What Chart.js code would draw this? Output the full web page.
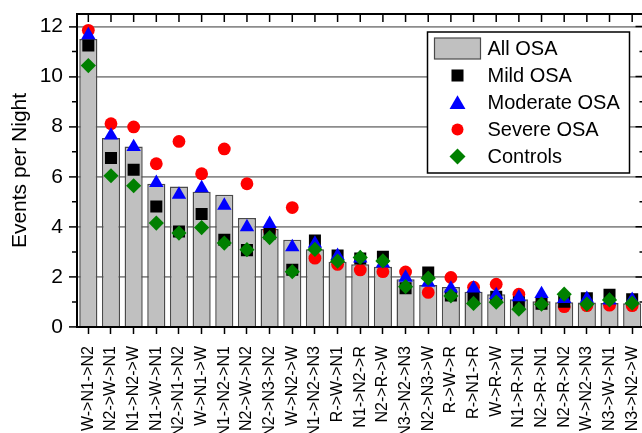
<!DOCTYPE html>
<html>
<head>
<meta charset="utf-8">
<script src="https://cdn.jsdelivr.net/npm/chart.js@4.4.1/dist/chart.umd.min.js"></script>
<style>
  html, body { margin: 0; padding: 0; background: #fff; overflow: hidden; }
  #wrap { width: 652px; height: 460px; position: relative; }
</style>
</head>
<body>
<div id="wrap"><canvas id="c"></canvas></div>
<script>
// Sleep-stage transition triplets, sorted by the All OSA rate
const categories = [
  'W->N1->N2', 'N2->W->N1', 'N1->N2->W', 'N1->W->N1', 'N2->N1->N2',
  'W->N1->W', 'N1->N2->N1', 'N2->W->N2', 'N2->N3->N2', 'W->N2->W',
  'N1->N2->N3', 'R->W->N1', 'N1->N2->R', 'N2->R->W', 'N3->N2->N3',
  'N2->N3->W', 'R->W->R', 'R->N1->R', 'W->R->W', 'N1->R->N1',
  'N2->R->N1', 'N2->R->N2', 'W->N2->N3', 'N3->W->N1', 'N3->N2->W'
];

// Events per night for each group
const allOSA      = [11.50, 7.55, 7.21, 5.72, 5.61, 5.40, 5.28, 4.35, 3.91, 3.48, 3.11, 2.61, 2.51, 2.41, 1.91, 1.68, 1.60, 1.41, 1.31, 1.11, 1.03, 0.99, 0.98, 0.96, 0.95];
const mildOSA     = [11.24, 6.75, 6.28, 4.81, 3.81, 4.51, 3.48, 3.07, 3.72, 2.29, 3.45, 2.86, 2.74, 2.81, 1.55, 2.18, 1.26, 1.17, 1.21, 0.98, 0.93, 1.01, 1.15, 1.29, 1.11];
const moderateOSA = [11.66, 7.65, 7.19, 5.76, 5.29, 5.55, 4.85, 3.99, 4.12, 3.19, 3.33, 2.84, 2.74, 2.54, 1.97, 1.77, 1.54, 1.54, 1.28, 1.19, 1.32, 1.12, 1.13, 1.06, 1.09];
const severeOSA   = [11.85, 8.12, 7.99, 6.52, 7.41, 6.12, 7.11, 5.72, 3.84, 4.77, 2.75, 2.50, 2.28, 2.21, 2.20, 1.38, 1.98, 1.59, 1.71, 1.31, 0.93, 0.81, 0.85, 0.87, 0.85];
const controls    = [10.44, 6.04, 5.64, 4.15, 3.75, 3.97, 3.35, 3.09, 3.57, 2.21, 3.10, 2.63, 2.78, 2.64, 1.61, 1.95, 1.24, 0.94, 0.99, 0.71, 0.91, 1.31, 0.91, 1.08, 0.95];

// Y axis: ticks every unit, labels on even values only
const yMin = 0, yMax = 12.5;
const yTickValues = [0, 1, 2, 3, 4, 5, 6, 7, 8, 9, 10, 11, 12];

Chart.defaults.font.family = '"Liberation Sans", Arial, Helvetica, sans-serif';
Chart.defaults.color = '#000';

// Marker shapes matching Chart.js point styles, used by the inset legend
function drawMarker(ctx, style, x, y, r, color) {
  ctx.fillStyle = color;
  ctx.beginPath();
  if (style === 'rect') {
    const s = Math.SQRT1_2 * r;
    ctx.rect(x - s, y - s, 2 * s, 2 * s);
  } else if (style === 'triangle') {
    ctx.moveTo(x, y - r);
    ctx.lineTo(x + 0.866 * r, y + 0.5 * r);
    ctx.lineTo(x - 0.866 * r, y + 0.5 * r);
    ctx.closePath();
  } else if (style === 'circle') {
    ctx.arc(x, y, r, 0, Math.PI * 2);
  } else if (style === 'rectRot') {
    ctx.moveTo(x - r, y);
    ctx.lineTo(x, y - r);
    ctx.lineTo(x + r, y);
    ctx.lineTo(x, y + r);
    ctx.closePath();
  }
  ctx.fill();
}

// Top and right frame with inward ticks, plus short minor ticks on the left
const framePlugin = {
  id: 'frame',
  afterDatasetsDraw(chart) {
    const { ctx, chartArea: a, scales } = chart;
    const xs = scales.x, ys = scales.y;
    ctx.save();
    ctx.strokeStyle = '#000';
    ctx.lineWidth = 2;
    ctx.beginPath();
    ctx.moveTo(a.left - 1, a.top);
    ctx.lineTo(a.right + 1, a.top);
    ctx.moveTo(a.right, a.top);
    ctx.lineTo(a.right, a.bottom);
    ctx.stroke();
    ctx.lineWidth = 1.5;
    ctx.beginPath();
    for (let i = 0; i < categories.length; i++) {
      const px = xs.getPixelForValue(i);
      ctx.moveTo(px, a.top);
      ctx.lineTo(px, a.top + 8);
    }
    yTickValues.forEach(v => {
      if (v === 0) return;
      const py = ys.getPixelForValue(v);
      const len = v % 2 === 0 ? 8 : 4;
      ctx.moveTo(a.right, py);
      ctx.lineTo(a.right - len, py);
      if (v % 2 === 1) {
        ctx.moveTo(a.left, py);
        ctx.lineTo(a.left - 5, py);
      }
    });
    ctx.stroke();
    ctx.restore();
  }
};

const legendPlugin = {
  id: 'insetLegend',
  afterDraw(chart) {
    const { ctx, chartArea: a } = chart;
    const w = 202, h = 141;
    const x0 = a.right - 14 - w, y0 = a.top + 18;
    ctx.save();
    ctx.fillStyle = '#fff';
    ctx.fillRect(x0, y0, w, h);
    ctx.strokeStyle = '#000';
    ctx.lineWidth = 1.5;
    ctx.strokeRect(x0, y0, w, h);
    ctx.font = '20px "Liberation Sans", Arial, sans-serif';
    ctx.textBaseline = 'middle';
    ctx.textAlign = 'left';
    const sizes = { rect: 8.5, triangle: 9.2, circle: 6, rectRot: 8 };
    chart.data.datasets.forEach((ds, i) => {
      const cy = y0 + 16.5 + 27 * i;
      const mx = x0 + 30;
      if (ds.type === 'bar') {
        ctx.fillStyle = ds.backgroundColor;
        ctx.fillRect(x0 + 7, cy - 10.5, 46, 21);
        ctx.strokeStyle = ds.borderColor;
        ctx.lineWidth = 1.2;
        ctx.strokeRect(x0 + 7, cy - 10.5, 46, 21);
      } else {
        drawMarker(ctx, ds.pointStyle, mx, cy + (ds.pointStyle === 'triangle' ? 2 : 0), sizes[ds.pointStyle], ds.pointBackgroundColor);
      }
      ctx.fillStyle = '#000';
      ctx.fillText(ds.label, x0 + 60, cy + 1);
    });
    ctx.restore();
  }
};

function markers(label, data, style, radius, color, order) {
  return {
    type: 'line', label, data, order,
    showLine: false,
    pointStyle: style,
    pointRadius: radius,
    pointHoverRadius: radius,
    pointBackgroundColor: color,
    pointBorderColor: color,
    pointBorderWidth: 0,
    borderColor: color,
    backgroundColor: color
  };
}

new Chart(document.getElementById('c'), {
  data: {
    labels: categories,
    datasets: [
      {
        type: 'bar', label: 'All OSA', data: allOSA, order: 10,
        backgroundColor: '#c0c0c0', borderColor: '#4a4a4a', borderWidth: 1.5,
        categoryPercentage: 1.0, barPercentage: 0.8
      },
      markers('Mild OSA', mildOSA, 'rect', 8.5, '#000000', 3),
      markers('Moderate OSA', moderateOSA, 'triangle', 8.3, '#0000ff', 2),
      markers('Severe OSA', severeOSA, 'circle', 6.4, '#ff0000', 4),
      markers('Controls', controls, 'rectRot', 7.6, '#008000', 1)
    ]
  },
  options: {
    responsive: true,
    maintainAspectRatio: false,
    animation: false,
    devicePixelRatio: 1,
    layout: { padding: { top: 14, right: 2, left: 0, bottom: 0 } },
    plugins: { legend: { display: false }, tooltip: { enabled: false } },
    scales: {
      x: {
        type: 'category',
        offset: true,
        grid: { display: true, drawOnChartArea: false, offset: false, tickLength: 7, tickColor: '#000', tickWidth: 1.5 },
        border: { display: true, color: '#000', width: 2 },
        ticks: { autoSkip: false, minRotation: 90, maxRotation: 90, padding: 12, font: { size: 16 }, color: '#000' },
        afterFit(s) { s.height = 460 - 327; s.paddingLeft = 0; s.paddingRight = 0; }
      },
      y: {
        type: 'linear',
        min: yMin, max: yMax,
        afterBuildTicks(s) { s.ticks = yTickValues.map(v => ({ value: v })); },
        ticks: {
          padding: 6,
          font: { size: 21 },
          color: '#000',
          callback: v => (v % 2 === 0 ? String(v) : '')
        },
        grid: {
          color: c => (c.tick && c.tick.value % 2 !== 0 ? '#c4c4c4' : '#8c8c8c'),
          lineWidth: c => (c.tick && c.tick.value % 2 !== 0 ? 1.3 : 1.8),
          tickColor: c => (c.tick && c.tick.value % 2 !== 0 ? 'rgba(0,0,0,0)' : '#000'),
          tickLength: 8,
          tickWidth: 1.5
        },
        border: {
          display: true, color: '#000', width: 2,
          dash: c => (c.tick && c.tick.value % 2 !== 0 ? [6, 4] : [])
        },
        title: { display: true, text: 'Events per Night', font: { size: 21 }, color: '#000', padding: { top: 8, bottom: 0 } },
        afterFit(s) { s.width = 77; s.paddingTop = 0; s.paddingBottom = 0; }
      }
    }
  },
  plugins: [framePlugin, legendPlugin]
});
</script>
</body>
</html>
